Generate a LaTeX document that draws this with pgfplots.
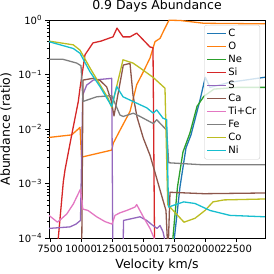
\documentclass[border=0pt]{standalone}
\usepackage{fontspec}
\setmainfont{DejaVu Sans}
\usepackage{pgfplots}
\pgfplotsset{compat=1.18}
\definecolor{tC}{HTML}{1F77B4}
\definecolor{tO}{HTML}{FF7F0E}
\definecolor{tNe}{HTML}{2CA02C}
\definecolor{tSi}{HTML}{D62728}
\definecolor{tS}{HTML}{9467BD}
\definecolor{tCa}{HTML}{8C564B}
\definecolor{tTi}{HTML}{E377C2}
\definecolor{tFe}{HTML}{7F7F7F}
\definecolor{tCo}{HTML}{BCBD22}
\definecolor{tNi}{HTML}{17BECF}
\begin{document}
\begin{tikzpicture}
\begin{axis}[name=ax, width=216pt, height=218pt, scale only axis,
  ymode=log, xmin=7419, xmax=24840, ymin=1e-4, ymax=1,
  scaled x ticks=false,
  xtick={7500,10000,12500,15000,17500,20000,22500},
  xticklabels={7500,10000,12500,15000,17500,20000,22500},
  minor x tick num=0,
  ytick={1e-4,1e-3,1e-2,1e-1,1},
  yticklabels={10\textsuperscript{−4},10\textsuperscript{−3},10\textsuperscript{−2},10\textsuperscript{−1},10\textsuperscript{0}},
  minor ytick={2e-4,3e-4,4e-4,5e-4,6e-4,7e-4,8e-4,9e-4,2e-3,3e-3,4e-3,5e-3,6e-3,7e-3,8e-3,9e-3,2e-2,3e-2,4e-2,5e-2,6e-2,7e-2,8e-2,9e-2,0.2,0.3,0.4,0.5,0.6,0.7,0.8,0.9},
  tick align=outside, tick pos=left, major tick length=3.5pt, minor tick length=2pt,
  tick style={black, line width=0.6pt}, minor tick style={black, line width=0.5pt},
  axis line style={line width=0.6pt},
  ticklabel style={font=\fontsize{10}{12}\selectfont},
  title={0.9 Days Abundance}, title style={font=\fontsize{12.5}{15}\selectfont, yshift=-2pt},
  xlabel={Velocity km/s}, ylabel={Abundance (ratio)},
  label style={font=\fontsize{12.5}{15}\selectfont},
  every axis plot/.append style={line width=1.3pt, no markers, line join=round},
  legend style={at={(0.977,0.977)}, anchor=north east, draw=black!20, rounded corners=2pt,
    fill=white, fill opacity=0.8, text opacity=1, draw opacity=1,
    font=\fontsize{10}{12}\selectfont, inner sep=2pt,
    nodes={text height=7.5pt, text depth=2.5pt, inner sep=1.5pt}},
  legend cell align=left,
  legend image code/.code={\draw[#1, line width=1.3pt] (0pt,0pt) -- (19pt,0pt);},
]
% C
\addplot[color=tC] coordinates {(7419,1e-6) (17000,1e-6) (17178,1e-5) (17541,1.05e-4) (17985,8.7e-4) (18468,4.5e-3) (18872,7.8e-3) (19598,0.034) (20025,0.089) (20404,0.058) (22017,0.072) (24840,0.089)};
% O
\addplot[color=tO] coordinates {(7419,7.0e-3) (9250,7.8e-3) (9920,0.0107) (10040,3.1e-3) (10186,3.1e-3) (12476,4.1e-3) (12605,5.5e-3) (13146,9.5e-3) (13952,0.021) (14492,0.065) (15025,0.112) (15565,0.20) (15968,0.40) (16372,0.46) (16775,0.71) (17097,0.99) (17985,0.98) (19920,0.87) (24840,0.85)};
% Ne
\addplot[color=tNe] coordinates {(7419,1e-6) (17000,1e-6) (17178,1.5e-5) (17420,1.05e-4) (17783,8.7e-4) (18226,3.8e-3) (18791,8.5e-3) (19356,0.026) (19920,0.040) (20727,0.054) (22582,0.058) (24840,0.058)};
% Si
\addplot[color=tSi] coordinates {(7419,1e-5) (8169,1.0e-4) (8573,1.07e-3) (8710,1.78e-3) (9250,7.8e-3) (9782,0.032) (9920,0.056) (10323,0.23) (10968,0.38) (11613,0.41) (12339,0.47) (12581,0.49) (12904,0.71) (13388,0.49) (13952,0.49) (14492,0.575) (15025,0.43) (15565,0.32) (15807,0.31) (16000,1e-6) (24840,1e-6)};
% S
\addplot[color=tS] coordinates {(7419,1.5e-4) (9113,1.6e-4) (9597,1.8e-4) (9960,2.1e-4) (10137,0.042) (10460,0.064) (10992,0.079) (12476,0.085) (12621,1e-6) (13307,1e-6) (13428,2.1e-4) (14218,2.3e-4) (14759,2.45e-4) (15299,2.1e-4) (15726,1.75e-4) (16130,1.5e-4) (16372,1.7e-4) (16614,1.3e-4) (16936,6e-5) (17200,1e-6) (24840,1e-6)};
% Ca
\addplot[color=tCa] coordinates {(7419,1e-6) (10000,1e-6) (10161,0.079) (10968,0.085) (11533,0.078) (12073,0.059) (12420,0.034) (12662,0.0174) (13412,0.149) (13952,0.160) (14194,0.042) (14517,0.0166) (15025,6.8e-3) (15565,3.3e-3) (15968,1.6e-3) (16372,7.6e-4) (16854,3.2e-4) (17017,5e-5) (17178,6.9e-4) (19920,6.5e-4) (24840,6.7e-4)};
% Ti+Cr
\addplot[color=tTi] coordinates {(7419,2.6e-4) (8105,1.95e-4) (8847,2.75e-4) (9379,4.2e-4) (9960,7.9e-4) (10145,3.4e-4) (10565,3.2e-4) (11266,2.45e-4) (11936,2.0e-4) (12500,1.8e-4) (12742,2.6e-4) (13146,2.9e-4) (13686,3.2e-4) (14355,3.7e-4) (14492,4.1e-4) (15025,2.45e-4) (15565,1.5e-4) (15968,9.1e-5) (16500,2e-5) (17000,1e-6) (24840,1e-6)};
% Fe
\addplot[color=tFe] coordinates {(7419,0.19) (8548,0.19) (9653,0.162) (10000,0.145) (10161,0.032) (11266,0.039) (12476,0.041) (13146,0.018) (13412,0.017) (14218,0.0195) (14759,0.017) (15831,0.0126) (16105,0.0148) (16912,9.5e-3) (17073,2.4e-3) (19896,2.2e-3) (24840,2.2e-3)};
% Co
\addplot[color=tCo] coordinates {(7419,0.41) (9379,0.35) (9920,0.28) (10726,0.132) (11533,0.065) (12178,0.037) (12476,0.025) (13388,0.186) (14194,0.162) (14759,0.132) (15807,0.089) (16775,0.056) (16993,4.1e-4) (18307,1.95e-4) (19194,2.3e-4) (20001,3.2e-4) (20646,4.6e-4) (21533,5.0e-4) (24840,5.2e-4)};
% Ni
\addplot[color=tNi] coordinates {(7419,0.40) (9379,0.30) (9920,0.245) (10726,0.112) (11533,0.060) (12476,0.026) (12879,0.060) (13388,0.039) (14194,0.032) (15299,0.0245) (15831,0.0195) (16105,0.0224) (16614,0.0158) (16912,0.0148) (17057,3.7e-4) (18283,4.6e-4) (19194,4.3e-4) (20404,3.2e-4) (22017,2.6e-4) (24840,2.45e-4)};
\legend{C,O,Ne,Si,S,Ca,Ti+Cr,Fe,Co,Ni}
\end{axis}
\pgfresetboundingbox
\path ([xshift=-49pt,yshift=-36pt]ax.south west) rectangle ([xshift=9pt,yshift=20pt]ax.north east);
\end{tikzpicture}
\end{document}
